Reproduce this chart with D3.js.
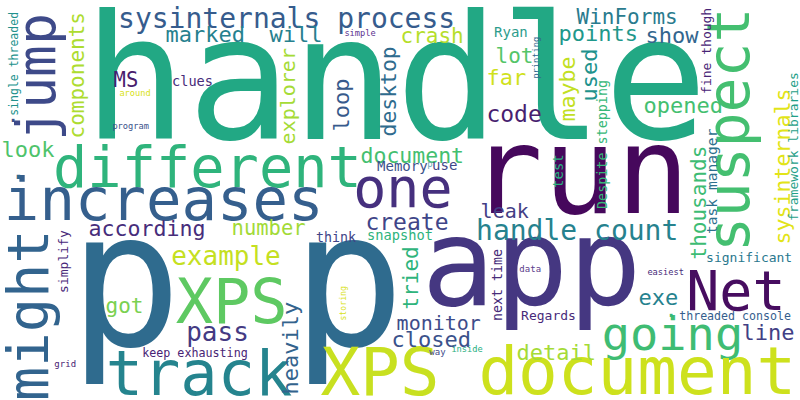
<!DOCTYPE html>
<html>
<head>
<meta charset="utf-8">
<script src="https://cdn.jsdelivr.net/npm/d3@7"></script>
<style>
  body { margin: 0; background: #fff; }
  svg text { font-family: "DejaVu Sans Mono", monospace; }
</style>
</head>
<body>
<svg id="cloud" width="800" height="400"></svg>
<script>
// words of the cloud, their weight (font size) and colour
const words = ["handle", "run", "app", "p", "p", "different", "increases", "one", "Net", "going",
  "XPS", "XPS", "document", "track", "sysinternals process", "handle count", "example", "pass",
  "marked", "will", "crash", "WinForms", "points", "show", "lot", "far", "code", "opened", "MS",
  "look", "document", "according", "number", "create", "leak", "got", "monitor", "closed", "detail",
  "line", "exe", "clues", "Ryan", "Memory", "use", "think", "snapshot", "significant", "Regards",
  "keep exhausting", "threaded console", "around", "program", "simple", "grid", "easiest", "data",
  "way", "inside", "p", ".", ".", ".",
  "jump", "might", "suspect", "components", "single threaded", "simplify", "explorer", "loop",
  "desktop", "printing", "maybe", "used", "fine though", "Despite stepping", "test", "task manager",
  "thousands", "sysinternals", "framework libraries", "tried", "next time", "heavily", "storing"];

const weights = [173, 122, 122, 188, 188, 57, 59, 55, 55, 47,
  62, 66, 66, 62, 28, 28, 26, 26,
  22, 22, 21, 21, 22, 22, 21, 22, 23, 22, 20.5,
  22, 21.5, 21.6, 20.5, 23, 20, 21, 20, 22, 22,
  22, 22, 13.6, 14, 14, 14, 13.3, 13.7, 13, 13,
  11.7, 11.6, 8.7, 8.7, 8.7, 9, 8.7, 9,
  9, 8.7, 9, 22, 28, 22,
  53, 57, 58, 21, 11.5, 13, 20, 22,
  21.4, 8.7, 21.6, 22, 13, 13.4, 14, 14.6,
  21, 21.6, 13, 21, 13.3, 22, 8.2];

const colors = ["#22a884", "#46085c", "#453781", "#2f6b8e", "#2f6b8e", "#2fb47c", "#355f8d", "#46307e", "#470d60", "#3fbc73",
  "#5ec962", "#c8e020", "#cde11d", "#25848e", "#365c8d", "#26828e", "#c5e021", "#443a83",
  "#26818e", "#27808e", "#b5de2b", "#2a7b8e", "#1f988b", "#32658e", "#54c568", "#d0e11c", "#481f70", "#44bf70", "#481b6d",
  "#4ec36b", "#44bf70", "#472d7b", "#a2da37", "#404588", "#433e85", "#7ad151", "#3e4c8a", "#3b528b", "#a5db36",
  "#423f85", "#26828e", "#472c7a", "#2c9c8c", "#3b528b", "#3f4788", "#414487", "#2eb37c", "#2a788e", "#472a7a",
  "#482475", "#355e8d", "#d8e219", "#3b528b", "#5c3290", "#482173", "#472c7a", "#5b3c8c",
  "#3e4a89", "#29af7f", "#6aa6b8", "#3b528b", "#31688e", "#35b779",
  "#3e4a89", "#32648e", "#44bf70", "#addc30", "#21918c", "#482878", "#a5db36", "#375a8c",
  "#2f6c8e", "#31688e", "#c2df23", "#20928c", "#482576", "#37b878", "#2ab07f", "#2d708e",
  "#3dbc74", "#e2e418", "#1fa088", "#2fb47c", "#472c7a", "#33638d", "#d8e219"];

// layout: left ink edge / baseline for flat words, baseline / bottom for upright ones
const layoutX = [95, 478, 430, 82, 305, 57, 8, 357, 690, 605,
  180, 325, 483, 110, 120, 478, 173, 188,
  167, 271, 402, 578, 560, 647, 497, 488, 488, 645, 115,
  3, 362, 90, 233, 367, 482, 107, 398, 393, 518,
  743, 640, 173, 495, 378, 433, 317, 368, 707, 522,
  143, 680, 120, 113, 345, 55, 648, 520,
  430, 452, 428, 8, 12, 666,
  55, 48, 749, 84, 18, 68, 295, 349,
  396, 539, 575, 597, 711, 607, 563, 717,
  706, 790, 798, 418, 502, 298, 346];

const layoutY = [139, 213, 305, 345, 345, 187, 220, 207, 310, 350,
  323, 395, 394, 395, 28, 240, 265, 341,
  42, 42, 43, 24, 41, 43, 63, 85, 122, 113, 87,
  157, 163, 236, 235, 230, 218, 313, 330, 347, 360,
  340, 305, 86, 37, 171, 170, 242, 240, 262, 320,
  357, 320, 96, 129, 36, 367, 275, 272,
  355, 352, 167, 122, 179, 317,
  137, 397, 248, 137, 115, 292, 143, 130,
  135, 78, 120, 100, 93, 208, 187, 233,
  258, 243, 220, 308, 320, 393, 320];

const upright = words.map((w, i) => i >= 63);

const width = 800, height = 400;
const x = d3.scaleLinear().domain([0, 800]).range([0, width]);
const y = d3.scaleLinear().domain([0, 400]).range([0, height]);
const size = d3.scaleLinear().domain([0, 200]).range([0, 200]);

const data = words.map((w, i) => ({
  text: w, weight: weights[i], color: colors[i],
  px: layoutX[i], py: layoutY[i], up: upright[i]
}));

const svg = d3.select("#cloud");

svg.selectAll("text")
  .data(data)
  .join("text")
    .attr("font-size", d => size(d.weight) + "px")
    .attr("fill", d => d.color)
    .attr("transform", d => d.up
      ? `translate(${x(d.px)},${y(d.py) + 0.07 * size(d.weight)}) rotate(-90)`
      : `translate(${x(d.px) - 0.07 * size(d.weight)},${y(d.py)})`)
    .text(d => d.text);
</script>
</body>
</html>
